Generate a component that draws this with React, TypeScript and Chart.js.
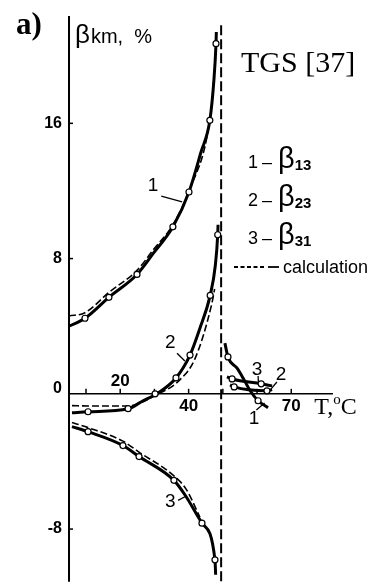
import React, { useEffect, useRef } from "react";
import { Chart, registerables } from "chart.js";

Chart.register(...registerables);

// ---------- data (T in °C, beta in %) ----------
const beta13Curve = [[5.0, 4.0], [9.7, 4.47], [16.7, 5.71], [24.9, 7.06], [29.6, 8.29], [35.4, 9.88], [40.1, 11.94], [43.6, 14.29], [46.2, 16.18], [47.4, 18.59], [48.0, 20.71], [48.1, 21.4]];
const beta13Points = [[9.7, 4.47], [16.7, 5.71], [24.9, 7.06], [35.4, 9.88], [40.1, 11.94], [46.2, 16.18], [48.0, 20.71]];
const beta13Calc = [[5.0, 4.6], [9.7, 4.8], [16.7, 6.0], [24.9, 7.3], [29.6, 8.5], [35.4, 10.0], [40.1, 12.0], [46.2, 16.2], [47.4, 18.6]];
const beta13Right = [[50.6, 3.0], [51.5, 2.18], [54.1, 1.53], [55.9, 0.94], [58.0, 0.18], [60.3, -0.41], [63.2, -0.82]];
const beta13RightPoints = [[51.5, 2.18], [60.3, -0.41]];

const beta23Curve = [[5.9, -1.12], [10.6, -1.06], [22.3, -0.88], [26.7, -0.41], [30.2, -0.06], [36.3, 0.94], [40.4, 2.29], [43.3, 3.88], [46.3, 5.82], [47.8, 7.59], [48.5, 9.41], [48.6, 10.0]];
const beta23Points = [[10.6, -1.06], [22.3, -0.88], [30.2, 0.0], [36.3, 0.94], [40.4, 2.29], [46.3, 5.82], [48.5, 9.41]];
const beta23Calc = [[5.9, -0.7], [10.6, -0.72], [22.3, -0.72], [30.2, -0.1], [37.4, 0.82], [41.9, 2.1], [46.8, 5.35], [47.6, 6.2]];
const beta23Right = [[52.1, 0.53], [53.3, 0.41], [62.9, 0.18], [64.4, 0.25]];
const beta23RightPoints = [[53.3, 0.41], [62.9, 0.18]];

const beta31Curve = [[5.9, -1.94], [10.6, -2.24], [20.8, -3.06], [25.5, -3.71], [35.7, -5.12], [39.0, -6.0], [43.9, -7.65], [47.7, -9.82], [47.9, -10.7]];
const beta31Points = [[10.6, -2.24], [20.8, -3.06], [25.5, -3.71], [35.7, -5.12], [43.9, -7.65], [47.7, -9.82]];
const beta31Calc = [[5.9, -1.7], [10.6, -2.0], [20.8, -2.8], [25.5, -3.45], [35.7, -4.85], [39.3, -5.65], [43.3, -7.3]];
const beta31Right = [[51.2, 1.0], [52.7, 0.88], [61.2, 0.59], [64.4, 0.47]];
const beta31RightPoints = [[52.7, 0.88], [61.2, 0.59]];

const asymptoteT = 49.5;
const asymptoteTop = 21.8;

const xTickValues = [10, 20, 30, 40, 50, 60, 70];
const xLabelValues = [20, 40, 70];
const xLabelTexts = ["20", "40", "70"];
const yTickValues = [16, 8, -8];
const yLabelValues = [16, 8, 0, -8];
const yLabelTexts = ["16", "8", "0", "-8"];

const legendNumbers = ["1", "2", "3"];
const legendSubscripts = ["13", "23", "31"];
const calcLabel = "calculation";
const titleText = "TGS [37]";
const panelText = "a)";

// curve labels: [text, labelT, labelBeta, leaderFromT, leaderFromB, leaderToT, leaderToB]
const curveLabels: [string, number, number, number, number, number, number][] = [
  ["1", 29.6, 12.3, 32.0, 11.7, 38.1, 11.35],
  ["2", 34.6, 3.0, 36.6, 2.4, 38.9, 1.94],
  ["3", 34.6, -6.4, 36.9, -6.3, 39.2, -6.06],
  ["3", 60.0, 1.45, 60.3, 1.05, 60.4, 0.7],
  ["2", 67.0, 1.15, 65.8, 0.7, 64.0, 0.26],
  ["1", 59.1, -1.5, 59.8, -0.95, 62.2, -0.55],
];

const X_MIN = 5.03;
const X_MAX = 82.2;
const Y_MIN = -11.12;
const Y_MAX = 22.35;

const toXY = (a: number[][]) => a.map(([x, y]) => ({ x, y }));

const solid = (d: number[][]) => ({
  data: toXY(d),
  borderColor: "#000",
  borderWidth: 3,
  pointRadius: 0,
  cubicInterpolationMode: "monotone" as const,
  fill: false,
  order: 1,
});
const dashed = (d: number[][]) => ({
  data: toXY(d),
  borderColor: "#000",
  borderWidth: 1.6,
  borderDash: [7, 3],
  pointRadius: 0,
  cubicInterpolationMode: "monotone" as const,
  fill: false,
  order: 2,
});
const markers = (d: number[][]) => ({
  data: toXY(d),
  showLine: false,
  pointRadius: 3,
  pointBackgroundColor: "#fff",
  pointBorderColor: "#000",
  pointBorderWidth: 1.2,
  order: 0,
});

const SANS = '"Liberation Sans", Arial, sans-serif';
const SERIF = '"Liberation Serif", "Times New Roman", serif';

const decor = {
  id: "decor",
  beforeDatasetsDraw(chart: any) {
    const { ctx, scales } = chart;
    const xs = scales.x, ys = scales.y;
    const x0 = xs.getPixelForValue(X_MIN);
    const y0 = ys.getPixelForValue(0);
    ctx.save();
    ctx.strokeStyle = "#000";
    ctx.lineWidth = 2;
    ctx.beginPath();
    ctx.moveTo(x0, ys.getPixelForValue(Y_MAX));
    ctx.lineTo(x0, ys.getPixelForValue(Y_MIN));
    ctx.stroke();
    ctx.lineWidth = 1.6;
    ctx.beginPath();
    ctx.moveTo(x0, y0);
    ctx.lineTo(xs.getPixelForValue(X_MAX), y0);
    ctx.stroke();
    ctx.lineWidth = 1.5;
    for (const t of xTickValues) {
      const px = xs.getPixelForValue(t);
      ctx.beginPath();
      ctx.moveTo(px, y0);
      ctx.lineTo(px, y0 - 5);
      ctx.stroke();
    }
    for (const v of yTickValues) {
      const py = ys.getPixelForValue(v);
      ctx.beginPath();
      ctx.moveTo(x0, py);
      ctx.lineTo(x0 + 4, py);
      ctx.stroke();
    }
    // asymptote
    ctx.lineWidth = 2;
    ctx.setLineDash([10, 4]);
    const ax = xs.getPixelForValue(asymptoteT);
    ctx.beginPath();
    ctx.moveTo(ax, ys.getPixelForValue(asymptoteTop));
    ctx.lineTo(ax, ys.getPixelForValue(Y_MIN));
    ctx.stroke();
    ctx.restore();
  },
  afterDatasetsDraw(chart: any) {
    const { ctx, scales } = chart;
    const xs = scales.x, ys = scales.y;
    const x0 = xs.getPixelForValue(X_MIN);
    const y0 = ys.getPixelForValue(0);
    ctx.save();
    ctx.fillStyle = "#000";
    ctx.strokeStyle = "#000";

    // y labels
    ctx.font = `bold 16px ${SANS}`;
    ctx.textAlign = "right";
    ctx.textBaseline = "middle";
    yLabelValues.forEach((v, i) => {
      const py = ys.getPixelForValue(v) - (v === 0 ? 5 : 0);
      ctx.fillText(yLabelTexts[i], x0 - 7, py);
    });

    // x labels
    ctx.font = `bold 17px ${SANS}`;
    ctx.textAlign = "center";
    xLabelValues.forEach((v, i) => {
      const px = xs.getPixelForValue(v);
      const above = i === 0;
      ctx.fillText(xLabelTexts[i], px, above ? y0 - 13 : y0 + 12);
    });

    // T,°C
    ctx.textAlign = "left";
    ctx.textBaseline = "alphabetic";
    let tx = xs.getPixelForValue(70) + 23;
    const tb = y0 + 20;
    ctx.font = `24px ${SERIF}`;
    ctx.fillText("T,", tx, tb);
    tx += ctx.measureText("T,").width;
    ctx.font = `15px ${SERIF}`;
    ctx.fillText("o", tx, tb - 10);
    tx += ctx.measureText("o").width;
    ctx.font = `24px ${SERIF}`;
    ctx.fillText("C", tx, tb);

    // panel letter and axis title
    ctx.font = `bold 31px ${SERIF}`;
    ctx.fillText(panelText, 16, 34);
    ctx.font = `26px ${SANS}`;
    ctx.fillText("β", 75, 43);
    const bw = ctx.measureText("β").width;
    ctx.font = `20px ${SANS}`;
    ctx.fillText("km,  %", 76 + bw, 43);

    // title
    ctx.font = `30px ${SERIF}`;
    ctx.fillText(titleText, 241, 72);

    // legend
    legendNumbers.forEach((n, i) => {
      const base = 168 + i * 38;
      ctx.font = `18px ${SANS}`;
      ctx.fillText(n, 248, base);
      ctx.fillText("–", 262, base);
      ctx.font = `29px ${SANS}`;
      ctx.fillText("β", 278, base);
      const w = ctx.measureText("β").width;
      ctx.font = `bold 15px ${SANS}`;
      ctx.fillText(legendSubscripts[i], 278 + w, base + 2);
    });
    ctx.lineWidth = 1.8;
    ctx.setLineDash([4, 2.5]);
    ctx.beginPath();
    ctx.moveTo(234, 267);
    ctx.lineTo(265, 267);
    ctx.stroke();
    ctx.setLineDash([]);
    ctx.beginPath();
    ctx.moveTo(268, 267);
    ctx.lineTo(279, 267);
    ctx.stroke();
    ctx.font = `18px ${SANS}`;
    ctx.fillText(calcLabel, 283, 273);

    // curve labels with leaders
    ctx.font = `19px ${SANS}`;
    ctx.textAlign = "center";
    ctx.textBaseline = "middle";
    ctx.lineWidth = 1.3;
    for (const [txt, lt, lb, ft, fb, tt, tbb] of curveLabels) {
      ctx.fillText(txt, xs.getPixelForValue(lt), ys.getPixelForValue(lb));
      ctx.beginPath();
      ctx.moveTo(xs.getPixelForValue(ft), ys.getPixelForValue(fb));
      ctx.lineTo(xs.getPixelForValue(tt), ys.getPixelForValue(tbb));
      ctx.stroke();
    }
    ctx.restore();
  },
};

export default function App() {
  const ref = useRef<HTMLCanvasElement | null>(null);
  useEffect(() => {
    if (!ref.current) return;
    const chart = new Chart(ref.current, {
      type: "line",
      data: {
        datasets: [
          dashed(beta13Calc), dashed(beta23Calc), dashed(beta31Calc),
          solid(beta13Curve), solid(beta23Curve), solid(beta31Curve),
          solid(beta13Right), solid(beta23Right), solid(beta31Right),
          markers(beta13Points), markers(beta23Points), markers(beta31Points),
          markers(beta13RightPoints), markers(beta23RightPoints), markers(beta31RightPoints),
        ] as any,
      },
      options: {
        animation: false,
        responsive: false,
        devicePixelRatio: 1,
        layout: { padding: { left: 69, right: 39, top: 16, bottom: 2 } },
        plugins: { legend: { display: false }, tooltip: { enabled: false } },
        elements: { line: { tension: 0 } },
        scales: {
          x: { type: "linear", min: X_MIN, max: X_MAX, display: false },
          y: { type: "linear", min: Y_MIN, max: Y_MAX, display: false },
        },
      },
      plugins: [decor],
    });
    return () => chart.destroy();
  }, []);
  return (
    <div style={{ position: "fixed", left: 0, top: 0, width: 372, height: 587, background: "#fff" }}>
      <canvas ref={ref} width={372} height={587} style={{ width: 372, height: 587, display: "block" }} />
    </div>
  );
}
